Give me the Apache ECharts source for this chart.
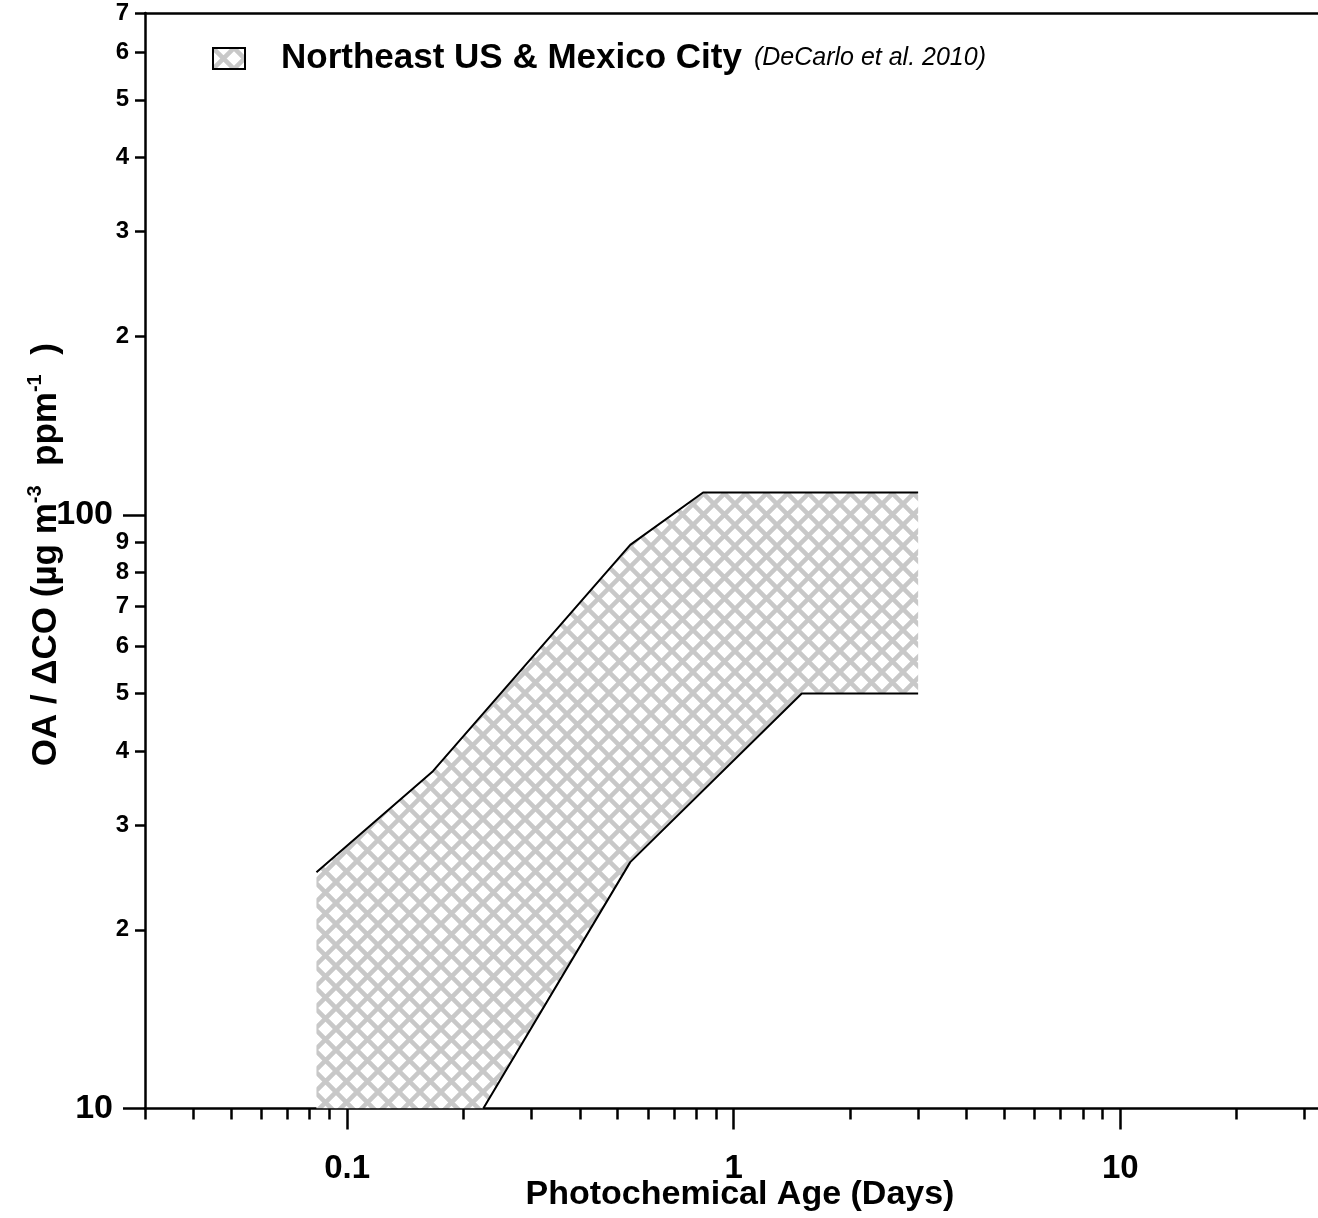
<!DOCTYPE html>
<html>
<head>
<meta charset="utf-8">
<script src="https://cdn.jsdelivr.net/npm/echarts@6/dist/echarts.min.js"></script>
<style>
  html, body { margin: 0; padding: 0; background: #fff; overflow: hidden; }
  #chart { width: 1318px; height: 1218px; }
</style>
</head>
<body>
<div id="chart"></div>
<script>
// Envelope of OA/ΔCO versus photochemical age (days)
const upperAge = [0.0833, 0.1667, 0.54, 0.8333, 3.0];
const upperRatio = [25, 37, 89, 109, 109];
const lowerAge = [3.0, 1.5, 0.54, 0.225];
const lowerRatio = [50, 50, 26, 10];

const seriesName = 'Northeast US & Mexico City';
const citation = '(DeCarlo et al. 2010)';

// Axis ranges and tick positions
const xRange = [0.03, 40];
const yRange = [10, 700];
const xMajorTicks = [0.1, 1, 10];
const xMinorTicks = [0.03, 0.04, 0.05, 0.06, 0.07, 0.08, 0.09,
                     0.2, 0.3, 0.4, 0.5, 0.6, 0.7, 0.8, 0.9,
                     2, 3, 4, 5, 6, 7, 8, 9, 20, 30, 40];
const yMajorTicks = [10, 100];
const yMinorTicks = [20, 30, 40, 50, 60, 70, 80, 90, 200, 300, 400, 500, 600, 700];

const FONT = 'Liberation Sans, Arial, sans-serif';

// Cross-hatch tile used as the envelope fill
function makeHatch(size, lineWidth, color) {
  const c = document.createElement('canvas');
  c.width = c.height = size;
  const g = c.getContext('2d');
  g.fillStyle = '#ffffff';
  g.fillRect(0, 0, size, size);
  g.strokeStyle = color;
  g.lineWidth = lineWidth;
  g.beginPath();
  for (const o of [-size, 0, size]) {
    g.moveTo(o - 3, -3); g.lineTo(o + size + 3, size + 3);
    g.moveTo(o + size + 3, -3); g.lineTo(o - 3, size + 3);
  }
  g.stroke();
  return { image: c, repeat: 'repeat' };
}
const hatch = makeHatch(21, 4.5, '#c8c8c8');

const leadingDigit = v => {
  const p = Math.pow(10, Math.floor(Math.log10(v) + 1e-9));
  return String(Math.round(v / p));
};

const axisLineStyle = { color: '#000', width: 2.5 };

const chart = echarts.init(document.getElementById('chart'), null, { renderer: 'canvas' });

chart.setOption({
  backgroundColor: '#fff',
  animation: false,
  grid: { left: 145, top: 13, right: -35, bottom: 109.5, containLabel: false, outerBoundsMode: 'none' },
  legend: {
    data: [{
      name: seriesName,
      icon: 'rect',
      itemStyle: { color: hatch, borderColor: '#000', borderWidth: 2 }
    }],
    selectedMode: false,
    padding: 0,
    left: 212, top: 41,
    itemWidth: 32, itemHeight: 21,
    formatter: n => '{t|' + n + '}{c|' + citation + '}',
    textStyle: {
      rich: {
        t: { fontSize: 35, fontWeight: 'bold', fontFamily: FONT, color: '#000', padding: [0, 12, 0, 31] },
        c: { fontSize: 25, fontStyle: 'italic', fontFamily: FONT, color: '#000' }
      }
    }
  },
  xAxis: [
    {
      type: 'log', logBase: 10, min: xRange[0], max: xRange[1], position: 'bottom',
      axisLine: { show: true, lineStyle: axisLineStyle },
      axisTick: { show: true, customValues: xMajorTicks, length: 21, lineStyle: axisLineStyle },
      axisLabel: {
        customValues: xMajorTicks, margin: 44,
        fontSize: 33, fontWeight: 'bold', fontFamily: FONT, color: '#000',
        formatter: v => String(v)
      },
      splitLine: { show: false },
      name: 'Photochemical Age (Days)', nameLocation: 'middle', nameGap: 69,
      nameMoveOverlap: false,
      nameTextStyle: {
        fontSize: 34, fontWeight: 'bold', fontFamily: FONT, color: '#000',
        padding: [0, 18, 0, 0]
      }
    },
    {
      type: 'log', logBase: 10, min: xRange[0], max: xRange[1], position: 'bottom',
      axisLine: { show: false },
      axisTick: { show: true, customValues: xMinorTicks, length: 11, lineStyle: axisLineStyle },
      axisLabel: { show: false },
      splitLine: { show: false }
    },
    {
      type: 'log', logBase: 10, min: xRange[0], max: xRange[1], position: 'top',
      axisLine: { show: true, lineStyle: axisLineStyle },
      axisTick: { show: false }, axisLabel: { show: false }, splitLine: { show: false }
    }
  ],
  yAxis: [
    {
      type: 'log', logBase: 10, min: yRange[0], max: yRange[1], position: 'left',
      axisLine: { show: true, lineStyle: axisLineStyle },
      axisTick: { show: true, customValues: yMajorTicks, length: 22, lineStyle: axisLineStyle },
      axisLabel: {
        customValues: yMajorTicks, margin: 32,
        fontSize: 34, fontWeight: 'bold', fontFamily: FONT, color: '#000',
        formatter: v => String(v)
      },
      splitLine: { show: false },
      name: '{m|OA / ΔCO (µg m}{s|-3}{m|  ppm}{s|-1}{m|  )}',
      nameLocation: 'middle', nameGap: 78, nameRotate: 90,
      nameMoveOverlap: false,
      nameTextStyle: {
        padding: [0, 0, 0, 12],
        rich: {
          m: { fontSize: 35, fontWeight: 'bold', fontFamily: FONT, color: '#000', lineHeight: 42 },
          s: { fontSize: 20, fontWeight: 'bold', fontFamily: FONT, color: '#000', verticalAlign: 'top', lineHeight: 42 }
        }
      }
    },
    {
      type: 'log', logBase: 10, min: yRange[0], max: yRange[1], position: 'left',
      axisLine: { show: false },
      axisTick: { show: true, customValues: yMinorTicks, length: 10, lineStyle: axisLineStyle },
      axisLabel: {
        customValues: yMinorTicks, margin: 16,
        fontSize: 24, fontWeight: 'bold', fontFamily: FONT, color: '#000',
        formatter: leadingDigit
      },
      splitLine: { show: false }
    }
  ],
  series: [
    {
      name: seriesName,
      type: 'custom',
      xAxisIndex: 0, yAxisIndex: 0,
      clip: true,
      itemStyle: { color: hatch },
      data: [[upperAge[0], upperRatio[0]]],
      renderItem: (params, api) => {
        const pts = [];
        upperAge.forEach((a, i) => pts.push(api.coord([a, upperRatio[i]])));
        lowerAge.forEach((a, i) => pts.push(api.coord([a, lowerRatio[i]])));
        pts.push(api.coord([upperAge[0], yRange[0]]));
        return { type: 'polygon', shape: { points: pts }, style: { fill: hatch, stroke: null } };
      },
      z: 1
    },
    {
      name: 'upper', type: 'line', xAxisIndex: 0, yAxisIndex: 0,
      data: upperAge.map((a, i) => [a, upperRatio[i]]),
      showSymbol: false, symbol: 'none',
      lineStyle: { color: '#000', width: 2 }, z: 3
    },
    {
      name: 'lower', type: 'line', xAxisIndex: 0, yAxisIndex: 0,
      data: lowerAge.map((a, i) => [a, lowerRatio[i]]),
      showSymbol: false, symbol: 'none',
      lineStyle: { color: '#000', width: 2 }, z: 3
    }
  ]
});
</script>
</body>
</html>
